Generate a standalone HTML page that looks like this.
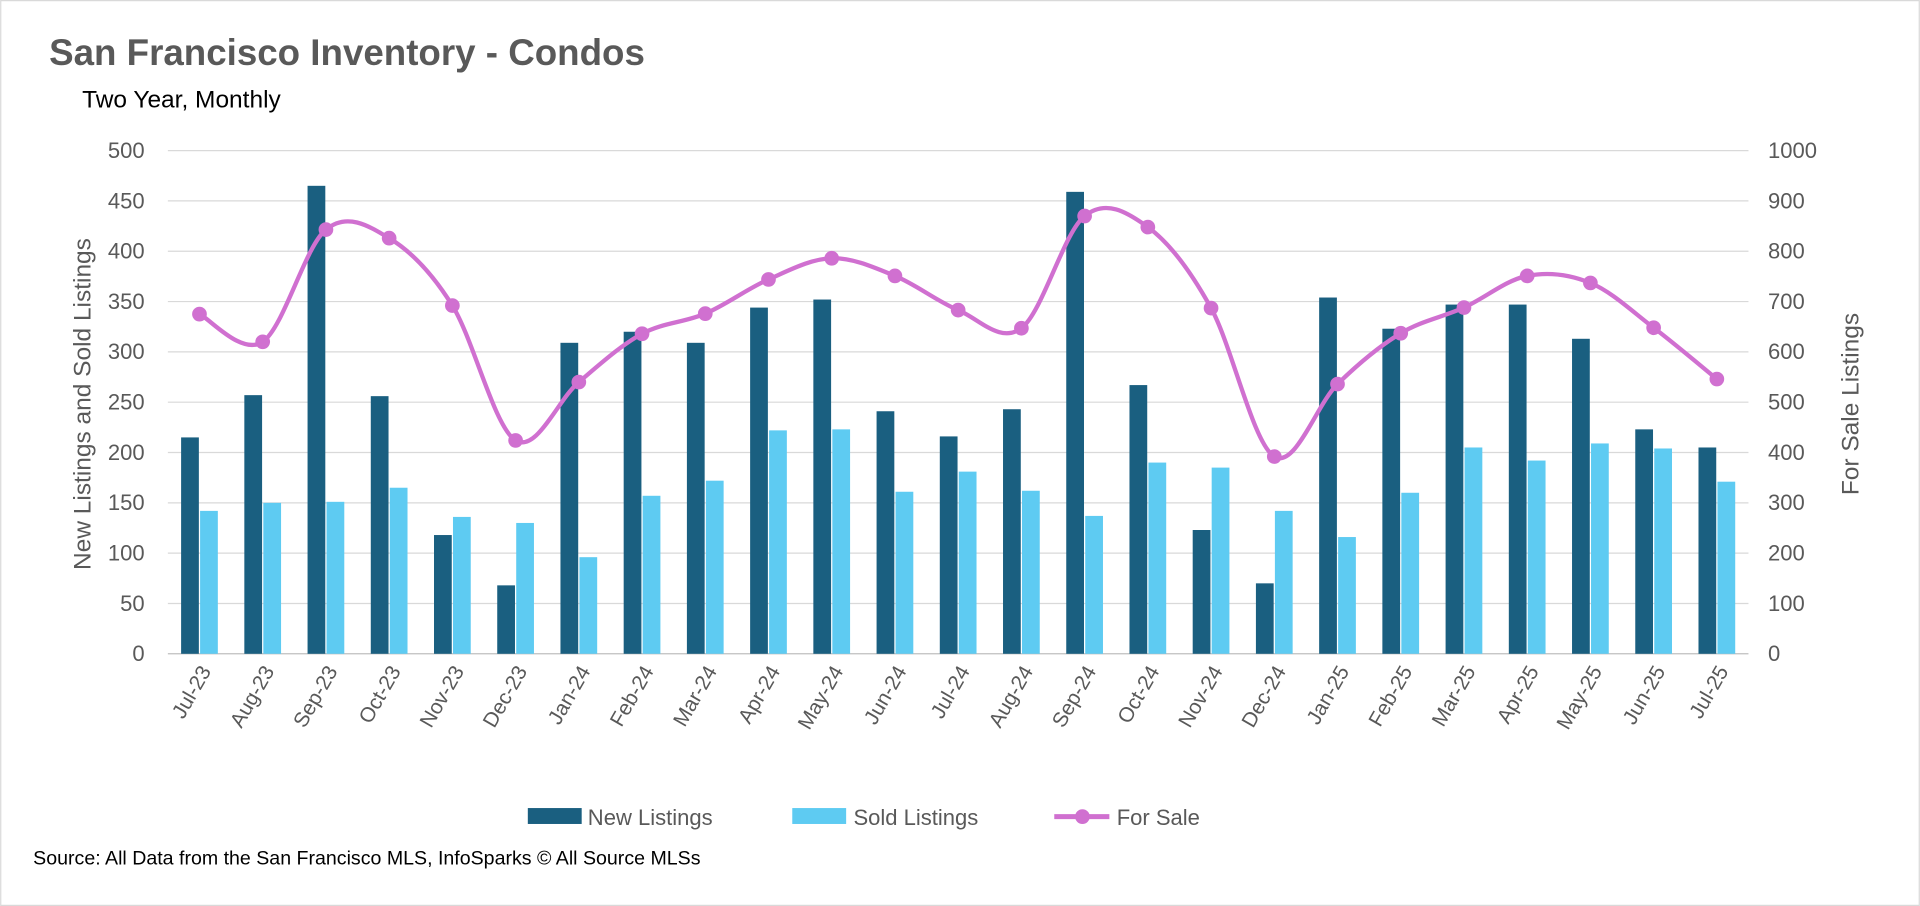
<!DOCTYPE html>
<html><head><meta charset="utf-8"><style>
html,body{margin:0;padding:0;background:#fff;}
svg{display:block;font-family:"Liberation Sans",sans-serif;}
</style></head><body>
<svg id="chart" width="1920" height="906" viewBox="0 0 1568 740" xmlns="http://www.w3.org/2000/svg">
<rect x="0.5" y="0.5" width="1567" height="739" fill="#fff" stroke="#d9d9d9"/>
<text x="40" y="53" font-size="30" font-weight="bold" fill="#595959">San Francisco Inventory - Condos</text>
<text x="67" y="88" font-size="20" fill="#000">Two Year, Monthly</text>
<g id="grid"></g>
<g id="bars"></g>
<g id="line"></g>
<g id="axes"></g>
<text transform="translate(74,330) rotate(-90)" text-anchor="middle" font-size="20" fill="#595959">New Listings and Sold Listings</text>
<text transform="translate(1518,330) rotate(-90)" text-anchor="middle" font-size="20" fill="#595959">For Sale Listings</text>
<g>
<g><rect x="431" y="660" width="44" height="13" fill="#1a5f80"/><text x="480" y="674" font-size="18" fill="#595959">New Listings</text></g>
<g><rect x="647" y="660" width="44" height="13" fill="#5ecbf2"/><text x="697" y="674" font-size="18" fill="#595959">Sold Listings</text></g>
<g><line x1="861" y1="667" x2="906" y2="667" stroke="#d070d0" stroke-width="4"/><circle cx="884" cy="667" r="6" fill="#d070d0"/><text x="912" y="674" font-size="18" fill="#595959">For Sale</text></g>
</g>
<text x="27" y="706" font-size="16" fill="#000">Source: All Data from the San Francisco MLS, InfoSparks © All Source MLSs</text>
</svg>
<script>
const categories=["Jul-23","Aug-23","Sep-23","Oct-23","Nov-23","Dec-23","Jan-24","Feb-24","Mar-24","Apr-24","May-24","Jun-24","Jul-24","Aug-24","Sep-24","Oct-24","Nov-24","Dec-24","Jan-25","Feb-25","Mar-25","Apr-25","May-25","Jun-25","Jul-25"];
const newListings=[215,257,465,256,118,68,309,320,309,344,352,241,216,243,459,267,123,70,354,323,347,347,313,223,205];
const soldListings=[142,150,151,165,136,130,96,157,172,222,223,161,181,162,137,190,185,142,116,160,205,192,209,204,171];
const forSale=[675,620,843,826,692,424,540,636,676,744,786,751,683,647,870,848,687,392,536,637,688,751,737,648,546];
const leftTicks=[0,50,100,150,200,250,300,350,400,450,500];
const rightTicks=[0,100,200,300,400,500,600,700,800,900,1000];
const NS="http://www.w3.org/2000/svg";
const X0=137,X1=1428,Y0=534,Y1=123;
const band=(X1-X0)/categories.length;
const xc=i=>X0+band*(i+0.5);
const yL=v=>Y0-(v/500)*(Y0-Y1);
const yR=v=>Y0-(v/1000)*(Y0-Y1);
function mk(tag,attrs,parent){const e=document.createElementNS(NS,tag);for(const k in attrs)e.setAttribute(k,attrs[k]);parent.appendChild(e);return e;}
const grid=document.getElementById('grid'),bars=document.getElementById('bars'),line=document.getElementById('line'),axes=document.getElementById('axes');
leftTicks.forEach((t,i)=>{
  const g=mk('line',{x1:X0,x2:X1,y1:yL(t),y2:yL(t),stroke:t===0?'#bfbfbf':'#d9d9d9','stroke-width':1},grid);
  
  
  const tl=mk('text',{x:118,y:yL(t)+6,'text-anchor':'end','font-size':18,fill:'#595959'},axes);
  tl.textContent=t;
  
  
});
rightTicks.forEach(t=>{
  const tl=mk('text',{x:1444,y:yR(t)+6,'font-size':18,fill:'#595959'},axes);
  tl.textContent=t;
  
  
});
const bw=14.5;
categories.forEach((c,i)=>{
  const cx=xc(i);
  const b1=mk('rect',{x:cx-bw-0.5,y:yL(newListings[i]),width:bw,height:Y0-yL(newListings[i]),fill:'#1a5f80'},bars);
  
  
  const b2=mk('rect',{x:cx+0.5,y:yL(soldListings[i]),width:bw,height:Y0-yL(soldListings[i]),fill:'#5ecbf2'},bars);
  
  
  const lx=cx+10,ly=548;
  const tl=mk('text',{x:lx,y:ly,'text-anchor':'end','font-size':17,fill:'#595959',transform:`rotate(-60 ${lx} ${ly})`},axes);
  tl.textContent=c;
  
  
});
const pts=forSale.map((v,i)=>[xc(i),yR(v)]);
let d=`M${pts[0][0]},${pts[0][1]}`;
for(let i=0;i<pts.length-1;i++){
  const p0=pts[Math.max(0,i-1)],p1=pts[i],p2=pts[i+1],p3=pts[Math.min(pts.length-1,i+2)];
  const k=1/6;
  d+=` C${p1[0]+(p2[0]-p0[0])*k},${p1[1]+(p2[1]-p0[1])*k} ${p2[0]-(p3[0]-p1[0])*k},${p2[1]-(p3[1]-p1[1])*k} ${p2[0]},${p2[1]}`;
}
const path=mk('path',{d:d,fill:'none',stroke:'#d070d0','stroke-width':3.5},line);


pts.forEach(p=>{
  const c=mk('circle',{cx:p[0],cy:p[1],r:6,fill:'#d070d0'},line);
  
  
});
</script>
</body></html>
